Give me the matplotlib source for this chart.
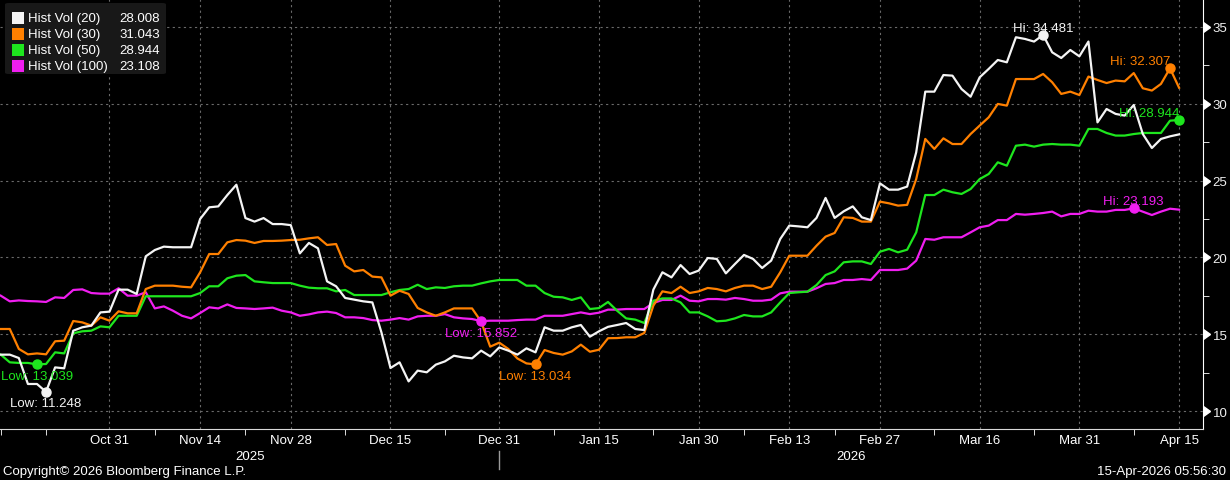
import numpy as np
import pandas as pd
import matplotlib
matplotlib.use('Agg')
import matplotlib.pyplot as plt
import matplotlib.transforms as mtransforms
from matplotlib.markers import CARETRIGHTBASE
from matplotlib.patches import FancyBboxPatch, Rectangle

# weekday history, Oct 15 2025 -> Apr 15 2026
dates = pd.bdate_range('2025-10-15', '2026-04-15')

hv20 = [13.67, 13.67, 13.45, 11.76, 11.76, 11.248, 12.84, 12.78, 15.23, 15.45,
        15.56, 16.42, 16.47, 17.9, 17.9, 17.62, 20.07, 20.48, 20.7, 20.66,
        20.66, 20.66, 22.5, 23.26, 23.32, 24.06, 24.73, 22.56, 22.33, 22.56,
        22.17, 22.17, 22.1, 20.26, 20.94,
        20.59, 18.44, 18.12, 17.36, 17.25, 17.14, 17.07, 15.12, 12.8, 13.17,
        11.93, 12.63, 12.52, 13.02, 13.23, 13.6, 13.49, 13.43, 13.93, 13.56,
        14.14, 13.93, 13.67, 14.08, 13.82, 15.45, 15.23, 15.23, 15.45, 15.6,
        14.84, 15.19, 15.48,
        15.6, 15.73, 15.34, 15.27, 17.9, 19.03, 18.7, 19.5, 18.92, 19.14,
        19.96, 19.9, 18.96, 19.57, 20.16, 19.9, 19.31, 19.79, 21.2, 22.07,
        22.02, 21.96, 22.57, 23.87, 22.57, 23.0, 23.32, 22.61, 22.43, 24.82,
        24.41, 24.41, 24.61,
        26.84, 30.79, 30.79, 31.87, 31.83, 30.96, 30.46, 31.72, 32.27, 32.85,
        32.7, 34.33, 34.22, 34.05, 34.481, 33.35, 32.98, 33.5, 33.09, 34.05,
        28.79, 29.66, 29.34, 29.23, 29.92, 28.03, 27.12, 27.71, 27.88, 28.008]

hv30 = [15.34, 15.34, 14.04, 13.69, 13.75, 13.69, 14.54, 14.58, 15.86, 15.77,
        15.56, 16.1, 15.88, 16.49, 16.36, 16.36, 17.94, 18.16, 18.16, 18.16,
        18.09, 18.05, 19.03, 20.22, 20.22, 20.98, 21.13, 21.09, 20.94, 21.07,
        21.07, 21.09, 21.13, 21.15, 21.24,
        21.31, 20.81, 20.87, 19.46, 19.09, 19.18, 18.75, 18.7, 17.51, 17.83,
        17.62, 16.71, 16.42, 16.2, 16.42, 16.68, 16.68, 16.68, 15.82, 14.19,
        14.45, 14.04, 13.42, 13.1, 13.034, 13.97, 13.78, 13.67, 13.88, 14.32,
        13.86, 13.99, 14.74,
        14.75, 14.8, 14.8, 15.08, 16.86, 17.79, 17.68, 18.09, 17.68, 17.79,
        18.01, 17.94, 17.79, 18.01, 18.16, 18.16, 17.94, 18.09, 19.03, 20.11,
        20.11, 20.11, 20.76, 21.35, 21.59, 22.61, 22.57, 22.33, 22.33, 23.63,
        23.52, 23.37, 23.42,
        25.1, 27.71, 27.06, 27.75, 27.38, 27.38, 28.03, 28.58, 29.12, 29.99,
        29.88, 31.61, 31.61, 31.61, 31.94, 31.4, 30.64, 30.79, 30.57, 31.77,
        31.55, 31.35, 31.51, 31.46, 32.0, 31.01, 30.86, 31.29, 32.307, 31.043]

hv50 = [13.67, 13.17, 13.13, 13.13, 13.039, 13.06, 13.82, 13.75, 15.06, 15.19,
        15.23, 15.51, 15.45, 16.2, 16.2, 16.2, 17.47, 17.47, 17.47, 17.47,
        17.47, 17.47, 17.68, 18.12, 18.12, 18.64, 18.81, 18.85, 18.44, 18.38,
        18.33, 18.33, 18.33, 18.16, 18.03,
        17.99, 17.99, 17.79, 17.88, 17.55, 17.55, 17.55, 17.55, 17.73, 17.88,
        17.94, 18.22, 17.94, 18.05, 18.01, 18.12, 18.16, 18.16, 18.31, 18.44,
        18.53, 18.53, 18.53, 18.16, 18.16, 17.68, 17.44, 17.4, 17.23, 17.4,
        16.64, 16.7, 17.1,
        16.53, 16.03, 15.95, 15.73, 17.18, 17.33, 17.33, 17.07, 16.42, 16.42,
        16.16, 15.84, 15.88, 16.03, 16.25, 16.16, 16.16, 16.42, 17.07, 17.68,
        17.73, 17.77, 18.2, 18.85, 19.09, 19.68, 19.74, 19.74, 19.57, 20.37,
        20.55, 20.33, 20.5,
        21.63, 24.06, 24.06, 24.41, 24.24, 24.13, 24.45, 25.1, 25.43, 26.19,
        25.97, 27.27, 27.34, 27.21, 27.34, 27.38, 27.34, 27.34, 27.27, 28.36,
        28.36, 28.1, 27.93, 27.93, 28.03, 28.1, 28.1, 28.1, 28.9, 28.944]

hv100 = [17.51, 17.14, 17.2, 17.16, 17.14, 17.1, 17.4, 17.36, 17.88, 17.92,
         17.68, 17.64, 17.64, 17.99, 17.51, 17.51, 17.73, 16.68, 16.81, 16.53,
         16.2, 16.03, 16.38, 16.75, 16.68, 16.94, 16.71, 16.68, 16.64, 16.68,
         16.73, 16.53, 16.42, 16.2, 16.29,
         16.42, 16.47, 16.38, 16.1, 16.1, 16.05, 15.92, 15.88, 15.95, 16.05,
         15.95, 16.16, 16.2, 16.2, 16.31, 16.1, 16.03, 15.99, 15.852, 15.88,
         15.88, 15.88, 15.92, 15.95, 15.95, 16.2, 16.2, 16.2, 16.31, 16.42,
         16.31, 16.4, 16.6,
         16.6, 16.64, 16.64, 16.64, 17.03, 17.23, 17.23, 17.51, 17.18, 17.14,
         17.29, 17.29, 17.25, 17.36, 17.29, 17.18, 17.18, 17.25, 17.66, 17.77,
         17.77, 17.77, 17.99, 18.27, 18.33, 18.53, 18.53, 18.59, 18.53, 19.18,
         19.18, 19.18, 19.27,
         19.79, 21.2, 21.15, 21.31, 21.31, 21.31, 21.63, 21.96, 22.07, 22.43,
         22.43, 22.83, 22.78, 22.83, 22.89, 22.98, 22.67, 22.83, 22.83, 23.04,
         22.98, 22.98, 23.09, 23.09, 23.193, 22.98, 22.76, 22.98, 23.17, 23.108]

series_names = ['Hist Vol (20)', 'Hist Vol (30)', 'Hist Vol (50)', 'Hist Vol (100)']
tick_dates = ['2025-10-31', '2025-11-14', '2025-11-28', '2025-12-15', '2025-12-31',
              '2026-01-15', '2026-01-30', '2026-02-13', '2026-02-27', '2026-03-16',
              '2026-03-31', '2026-04-15']
y_ticks = [10, 15, 20, 25, 30, 35]

colors = ['#f4f4f4', '#ff8000', '#1ee61e', '#f01ef0']
hi_align = ['center', 'right', 'right', 'center']
FS = 9.5

W, H, DPI = 1230, 481, 100
plt.rcParams['font.family'] = ['Liberation Sans', 'DejaVu Sans']
fig = plt.figure(figsize=(W / DPI, H / DPI), dpi=DPI, facecolor='black')
ax = fig.add_axes([0, 51 / H, 1203 / W, 430 / H], facecolor='black')

x = np.arange(len(dates))
data = [np.asarray(s) for s in (hv20, hv30, hv50, hv100)]

# draw longest window first so the short one sits on top
for k in range(len(data) - 1, -1, -1):
    ax.plot(x, data[k], color=colors[k], lw=1.6, zorder=3 + (4 - k) * 0.1)

# Hi / Low markers
for vals, c, ha in zip(data, colors, hi_align):
    hi = int(np.argmax(vals))
    lo = int(np.argmin(vals))
    ax.plot(x[[hi, lo]], vals[[hi, lo]], 'o', color=c, ms=6.5, zorder=5, clip_on=False)
    ax.annotate('Hi: {:.3f}'.format(vals[hi]), (x[hi], vals[hi]), xytext=(0, 3),
                textcoords='offset points', ha=ha, va='baseline', color=c, fontsize=FS, zorder=6)
    ax.annotate('Low: {:.3f}'.format(vals[lo]), (x[lo], vals[lo]), xytext=(0, -4),
                textcoords='offset points', ha='center', va='top', color=c, fontsize=FS, zorder=6)

x0, x1 = -0.08, 132.64
ax.set_xlim(x0, x1)
ax.set_ylim(8.83, 36.82)

# x axis: dates
tick_idx = [dates.get_loc(pd.Timestamp(d)) for d in tick_dates]
ax.set_xticks(tick_idx)
ax.set_xticklabels([dates[i].strftime('%b %d') for i in tick_idx])
minor_x = [0, tick_idx[0] - 7] + [int(np.ceil((a + b) / 2)) for a, b in zip(tick_idx[:-1], tick_idx[1:])]
ax.set_xticks(minor_x, minor=True)
ax.tick_params(axis='x', which='major', length=0, pad=3.5, labelcolor='white', labelsize=FS)
ax.tick_params(axis='x', which='minor', length=4, color='white', direction='out')

# y axis on the right
ax.yaxis.tick_right()
ax.set_yticks(y_ticks)
ax.set_yticks([(a + b) / 2 for a, b in zip(y_ticks[:-1], y_ticks[1:])], minor=True)
ax.tick_params(axis='y', which='major', length=0, pad=7, labelcolor='#f0f0f0', labelsize=FS)
ax.tick_params(axis='y', which='minor', length=4, color='white', direction='out')
ytrans = mtransforms.blended_transform_factory(ax.transAxes, ax.transData)
ax.plot(np.ones(len(y_ticks)), y_ticks, transform=ytrans, ls='none', marker=CARETRIGHTBASE,
        ms=7, color='white', clip_on=False, zorder=7)

ax.grid(True, which='major', color='#6a6a6a', linestyle=(0, (2, 3)), linewidth=0.8)
ax.set_axisbelow(True)
for side in ['left', 'top']:
    ax.spines[side].set_visible(False)
ax.spines['right'].set_color('white')
ax.spines['bottom'].set_color('#d8d8d8')

# year labels below the date axis
sep = int(np.where(dates.year == 2025)[0][-1])
xtrans = mtransforms.blended_transform_factory(ax.transData, ax.transAxes)
ax.plot([sep, sep], [-22 / 430, -40 / 430], transform=xtrans, color='#9a9a9a', lw=1, clip_on=False)
ax.text((x0 + sep) / 2, -27 / 430, '2025', transform=xtrans, ha='center', va='center',
        color='white', fontsize=FS)
ax.text((sep + x1) / 2, -27 / 430, '2026', transform=xtrans, ha='center', va='center',
        color='white', fontsize=FS)

# legend box
AW, AH = 1203.0, 430.0
box = FancyBboxPatch((5 / AW, 1 - 75 / AH), 161 / AW, 71 / AH, boxstyle='round,pad=0,rounding_size=0.003',
                     transform=ax.transAxes, fc='#181818', ec='none', zorder=8)
ax.add_patch(box)
for k, (name, vals, c) in enumerate(zip(series_names, data, colors)):
    yc = 19 + 15.9 * k
    ax.add_patch(Rectangle((12 / AW, 1 - (yc + 6) / AH), 12 / AW, 12 / AH, transform=ax.transAxes,
                           fc=c, ec='none', zorder=9))
    ax.text(28 / AW, 1 - yc / AH, name, transform=ax.transAxes, ha='left', va='center',
            color='white', fontsize=FS, zorder=9)
    ax.text(160 / AW, 1 - yc / AH, '{:.3f}'.format(vals[-1]), transform=ax.transAxes,
            ha='right', va='center', color='white', fontsize=FS, zorder=9)

fig.text(3 / W, 1 - 472 / H, 'Copyright\u00a9 2026 Bloomberg Finance L.P.', ha='left', va='center',
         color='white', fontsize=FS)
fig.text(1226 / W, 1 - 472 / H, '15-Apr-2026 05:56:30', ha='right', va='center',
         color='white', fontsize=FS)

fig.savefig('out.png', dpi=DPI, facecolor='black')
